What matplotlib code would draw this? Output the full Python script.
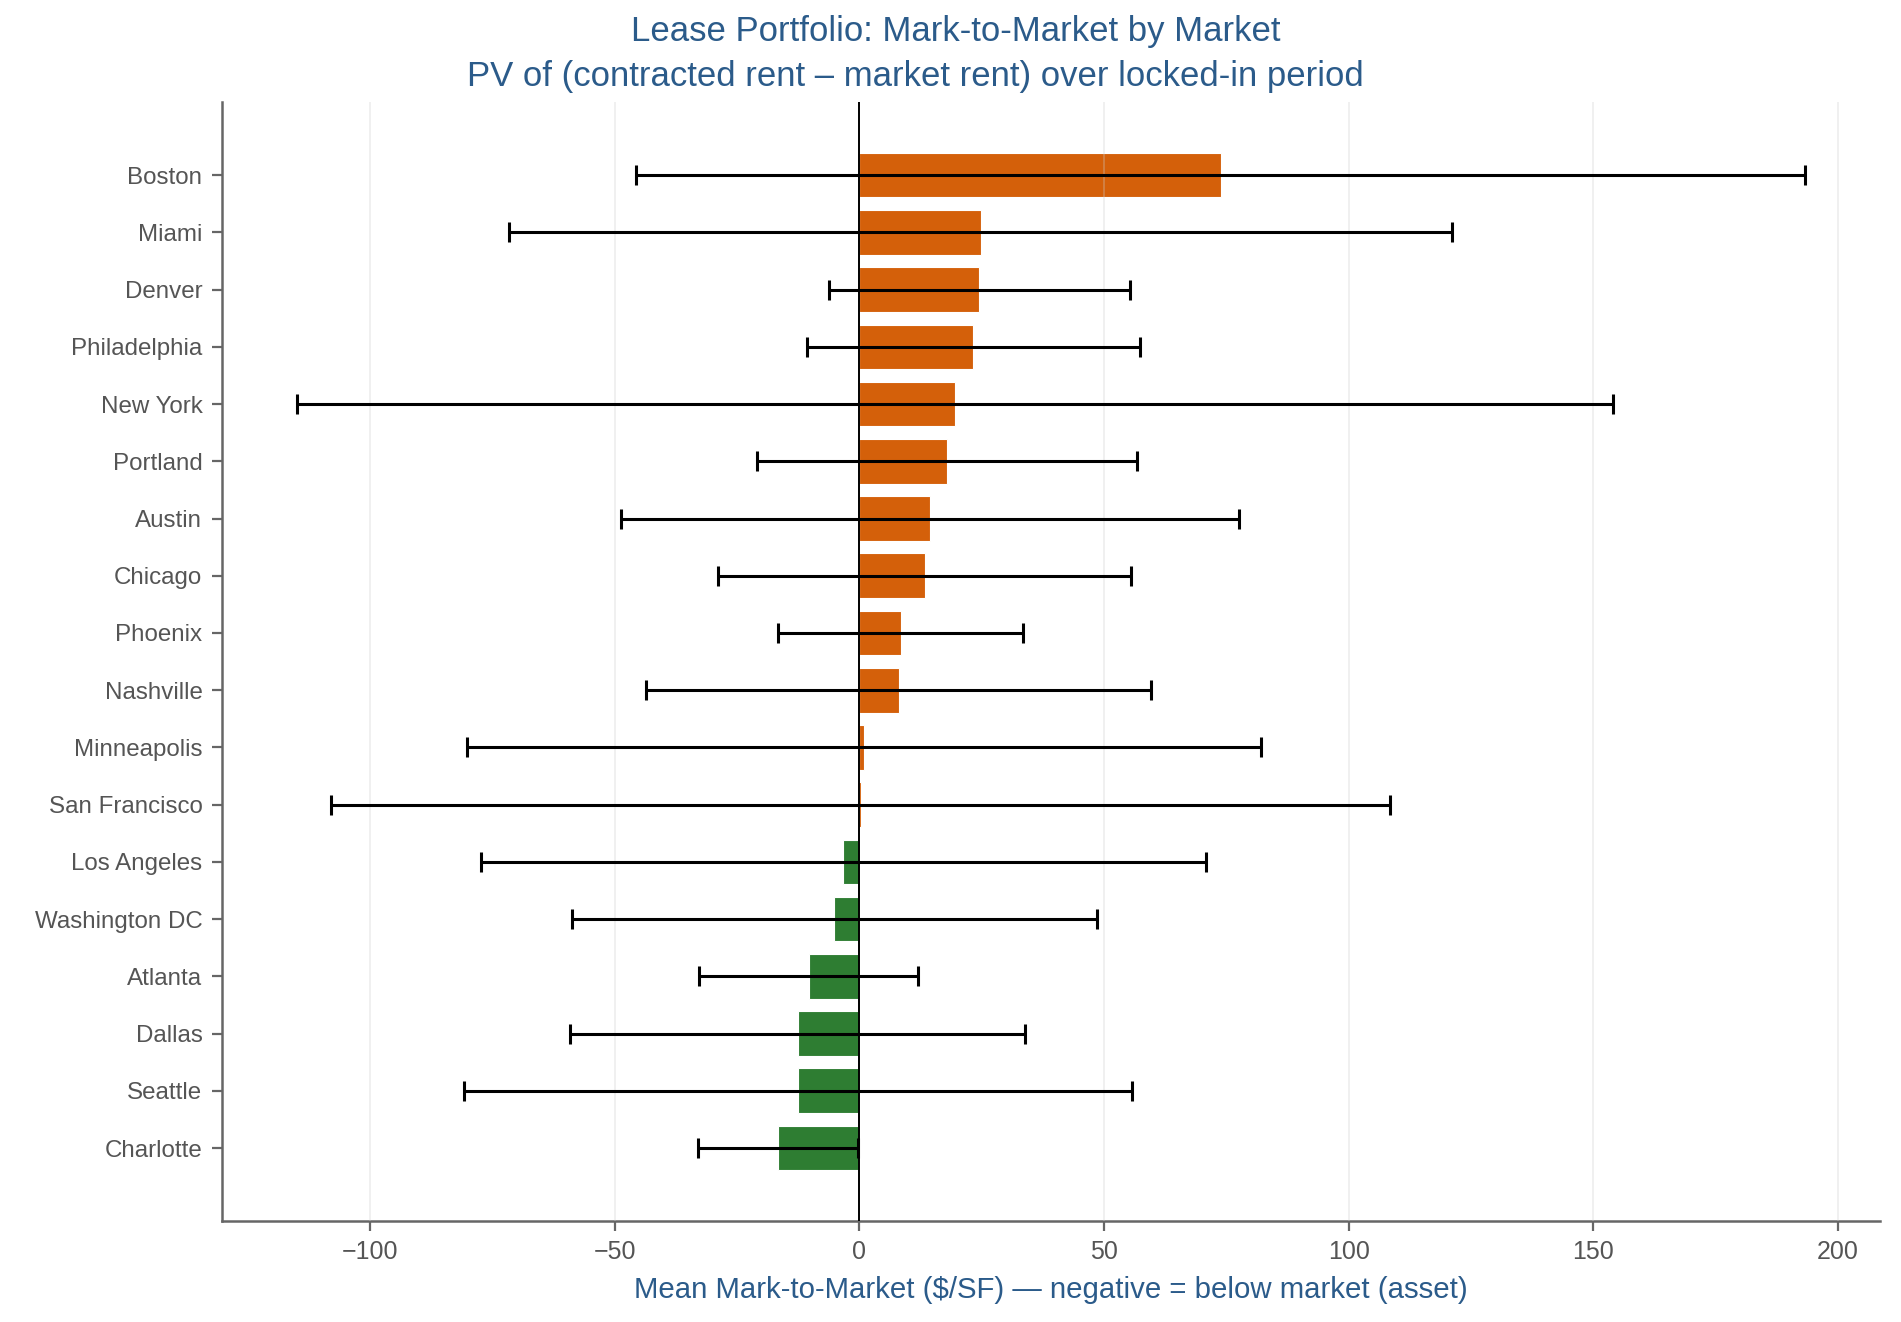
import matplotlib
matplotlib.use("Agg")
import matplotlib.pyplot as plt
import numpy as np

plt.rcParams["font.family"] = ["Liberation Sans", "DejaVu Sans"]

markets = [
    "Boston", "Miami", "Denver", "Philadelphia", "New York", "Portland",
    "Austin", "Chicago", "Phoenix", "Nashville", "Minneapolis",
    "San Francisco", "Los Angeles", "Washington DC", "Atlanta", "Dallas",
    "Seattle", "Charlotte",
]
mean_mtm = [73.8, 24.8, 24.5, 23.3, 19.6, 17.9, 14.4, 13.4, 8.4, 8.0,
            1.0, 0.3, -3.3, -5.1, -10.4, -12.6, -12.6, -16.6]
std_mtm = [119.4, 96.4, 30.8, 34.0, 134.5, 38.9, 63.2, 42.2, 25.1, 51.6,
           81.1, 108.2, 74.1, 53.6, 22.4, 46.5, 68.3, 16.3]

ORANGE = "#d4600a"
GREEN = "#2e7d32"
BLUE = "#2b5b8a"
GRAY = "#666666"

colors = [ORANGE if v >= 0 else GREEN for v in mean_mtm]
ypos = np.arange(len(markets))

fig = plt.figure(figsize=(9.505, 6.61), dpi=200)
ax = fig.add_axes([0.1167, 0.0764, 0.8723, 0.8463])

ax.barh(ypos, mean_mtm, height=0.78, color=colors,
        edgecolor="white", linewidth=0.4, zorder=1)
ax.errorbar(mean_mtm, ypos, xerr=std_mtm, fmt="none", ecolor="black",
            elinewidth=1.1, capsize=3.5, capthick=1.1, zorder=3)
ax.axvline(0, color="black", linewidth=0.7, zorder=4)

ax.set_yticks(ypos)
ax.set_yticklabels(markets)
ax.set_ylim(len(markets) - 1 + 1.275, -1.275)
ax.set_xlim(-130.3, 208.6)
ax.set_xticks([-100, -50, 0, 50, 100, 150, 200])
ax.set_xticklabels(["\u2212100", "\u221250", "0", "50", "100", "150", "200"])

# light grid drawn over the bars (shows faintly through Boston)
ax.grid(axis="x", color="#cccccc", alpha=0.3, linewidth=0.7, zorder=2)
ax.grid(axis="y", visible=False)
ax.set_axisbelow(False)

for side in ["top", "right"]:
    ax.spines[side].set_visible(False)
for side in ["left", "bottom"]:
    ax.spines[side].set_color(GRAY)
    ax.spines[side].set_linewidth(0.9)

ax.tick_params(axis="x", labelsize=9)
ax.tick_params(axis="y", labelsize=8.7)
ax.tick_params(axis="both", colors=GRAY, labelcolor="#555555",
               length=3.5, width=0.8)

ax.set_xlabel("Mean Mark-to-Market ($/SF) \u2014 negative = below market (asset)",
              color=BLUE, fontsize=10.6, labelpad=4)

# two title lines, second one sits a bit left of the first in the original
fig.text(0.503, 0.976, "Lease Portfolio: Mark-to-Market by Market",
         ha="center", va="center", color=BLUE, fontsize=12.5)
fig.text(0.4815, 0.942,
         "PV of (contracted rent \u2013 market rent) over locked-in period",
         ha="center", va="center", color=BLUE, fontsize=12.5)

fig.savefig("out.png", dpi=200)
